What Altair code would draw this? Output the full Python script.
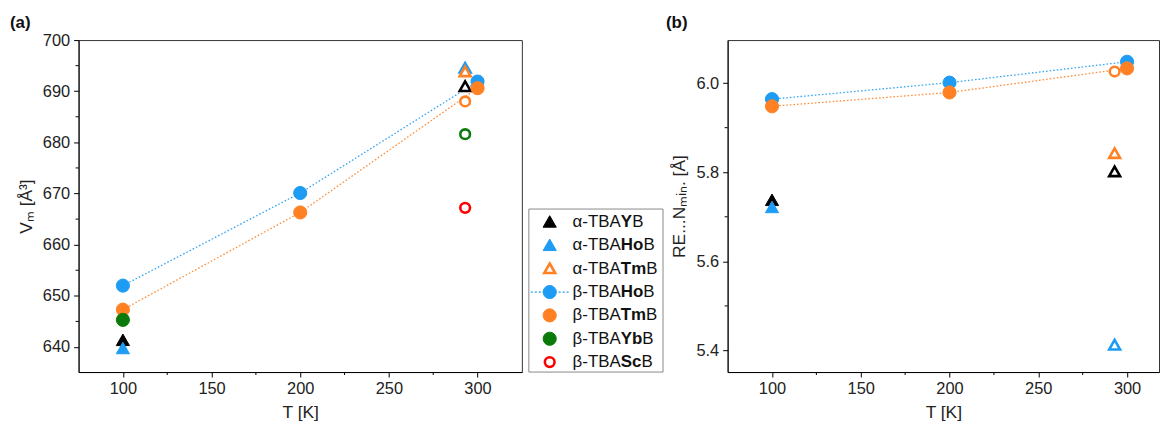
import altair as alt
import pandas as pd
import numpy as np

FONT = "Liberation Sans"

# ---- series definitions (legend order) ----
series_names = ["α-TBAYB", "α-TBAHoB", "α-TBATmB", "β-TBAHoB", "β-TBATmB", "β-TBAYbB", "β-TBAScB"]
label_prefix = ["α-TBA", "α-TBA", "α-TBA", "β-TBA", "β-TBA", "β-TBA", "β-TBA"]
label_bold = ["Y", "Ho", "Tm", "Ho", "Tm", "Yb", "Sc"]
label_suffix = ["B", "B", "B", "B", "B", "B", "B"]
series_colors = ["#000000", "#1e9cf3", "#ff8124", "#1e9cf3", "#ff8124", "#0b7a0b", "#ff0000"]
series_marker = ["triangle", "triangle", "triangle", "circle", "circle", "circle", "circle"]
legend_filled = [True, True, False, True, True, True, False]
line_series = ["β-TBAHoB", "β-TBATmB"]

# ---- panel (a): molar volume ----
a_series = ["α-TBAYB", "α-TBAYB", "α-TBAHoB", "α-TBAHoB", "α-TBATmB",
            "β-TBAHoB", "β-TBAHoB", "β-TBAHoB",
            "β-TBATmB", "β-TBATmB", "β-TBATmB", "β-TBATmB",
            "β-TBAYbB", "β-TBAYbB", "β-TBAScB"]
a_T = [100, 293, 100, 293, 293, 100, 200, 300, 100, 200, 300, 293, 100, 293, 293]
a_V = [641.3, 690.9, 639.7, 694.5, 693.8, 652.0, 670.1, 691.9, 647.3, 666.3, 690.6, 688.0, 645.3, 681.6, 667.2]
a_filled = [True, False, True, False, False, True, True, True, True, True, True, False, True, False, False]

# ---- panel (b): RE...N min distance ----
b_series = ["α-TBAYB", "α-TBAYB", "α-TBAHoB", "α-TBAHoB", "α-TBATmB",
            "β-TBAHoB", "β-TBAHoB", "β-TBAHoB",
            "β-TBATmB", "β-TBATmB", "β-TBATmB", "β-TBATmB"]
b_T = [100, 293, 100, 293, 293, 100, 200, 300, 100, 200, 300, 293]
b_R = [5.737, 5.801, 5.721, 5.412, 5.842, 5.964, 6.001, 6.048, 5.948, 5.979, 6.033, 6.026]
b_filled = [True, False, True, False, False, True, True, True, True, True, True, False]

# ---- axes ----
x_major = [100, 150, 200, 250, 300]
x_minor = [125, 175, 225, 275]
a_major = [640, 650, 660, 670, 680, 690, 700]
a_minor = [645, 655, 665, 675, 685, 695]
b_major = [5.4, 5.6, 5.8, 6.0]
b_minor = [5.5, 5.7, 5.9]

TRI = "M0,-0.95L1,0.8L-1,0.8Z"
cmap = dict(zip(series_names, series_colors))
mmap = dict(zip(series_names, series_marker))
PH = 334  # plot height


def make_points(ser, T, v, filled):
    df = pd.DataFrame({"series": ser, "T": T, "v": v, "filled": filled})
    df["color"] = df["series"].map(cmap)
    df["marker"] = df["series"].map(mmap)
    df["fill"] = np.where(df["filled"], df["color"], "white")
    df["size"] = np.where(df["filled"], 175, np.where(df["marker"] == "triangle", 120, 95))
    df["sw"] = np.where(df["filled"], 1.0, 2.6)
    df["order"] = range(len(df))
    return df


def axis_style(**kw):
    return alt.Axis(grid=False, tickSize=5, tickColor="black", domainColor="black",
                    labelFont=FONT, titleFont=FONT, labelFontSize=16.5, titleFontSize=17.5,
                    labelColor="#222", titleColor="#222", titleFontWeight="normal", **kw)


def panel(df, xdom, ydom, ymaj, ymin, ytitle, yfmt, w, tag, tag_dx):
    xs = alt.Scale(domain=xdom, nice=False, zero=False)
    ys = alt.Scale(domain=ydom, nice=False, zero=False)
    xax = axis_style(values=x_major, title="T [K]", labelPadding=4, titlePadding=6)
    yax = axis_style(values=ymaj, title=ytitle, format=yfmt, labelPadding=4, titlePadding=7)

    ldf = df[df["series"].isin(line_series) & df["filled"]]
    lines = alt.Chart(ldf).mark_line(strokeDash=[1.6, 2.0], strokeWidth=1.3, opacity=0.9).encode(
        x=alt.X("T:Q", scale=xs, axis=xax),
        y=alt.Y("v:Q", scale=ys, axis=yax),
        stroke=alt.Stroke("color:N", scale=None),
        detail="series:N",
    )
    pts = alt.Chart(df).mark_point(filled=True, opacity=1).encode(
        x=alt.X("T:Q", scale=xs, axis=xax),
        y=alt.Y("v:Q", scale=ys, axis=yax),
        shape=alt.Shape("marker:N", scale=alt.Scale(domain=["triangle", "circle"], range=[TRI, "circle"]), legend=None),
        fill=alt.Fill("fill:N", scale=None),
        stroke=alt.Stroke("color:N", scale=None),
        size=alt.Size("size:Q", scale=None),
        strokeWidth=alt.StrokeWidth("sw:Q", scale=None),
        order=alt.Order("order:Q"),
    )
    ymt = alt.Chart(pd.DataFrame({"v": ymin})).mark_rule(color="black", strokeWidth=1).encode(
        y=alt.Y("v:Q", scale=ys, axis=yax), x=alt.value(0), x2=alt.value(-3))
    xmt = alt.Chart(pd.DataFrame({"T": x_minor})).mark_rule(color="black", strokeWidth=1).encode(
        x=alt.X("T:Q", scale=xs, axis=xax), y=alt.value(PH), y2=alt.value(PH + 3))
    tagm = alt.Chart(pd.DataFrame({"t": [tag]})).mark_text(
        align="left", baseline="alphabetic", fontSize=17, fontWeight="bold", font=FONT, color="#111"
    ).encode(text="t:N", x=alt.value(tag_dx), y=alt.value(-12))
    return alt.layer(lines, pts, ymt, xmt, tagm).properties(width=w, height=PH)


a_df = make_points(a_series, a_T, a_V, a_filled)
b_df = make_points(b_series, b_T, b_R, b_filled)

left = panel(a_df, [75, 325], [635.1, 700], a_major, a_minor, "Vₘ [Å³]", "d", 446, "(a)", -69)
right = panel(b_df, [75, 318], [5.3516, 6.0966], b_major, b_minor, "RE...Nₘᵢₙ. [Å]", ".1f", 434, "(b)", -62)

# ---- custom legend (rich text labels) ----
REG = {"α": 0.58, "β": 0.575, "-": 0.333, "T": 0.611, "B": 0.667, "A": 0.667}
BLD = {"Y": 0.667, "H": 0.722, "o": 0.611, "T": 0.611, "m": 0.889, "b": 0.611, "S": 0.667, "c": 0.556}
LFS = 17
leg = pd.DataFrame({
    "row": list(range(len(series_names))),
    "pre": label_prefix, "bold": label_bold, "suf": label_suffix,
    "color": series_colors, "marker": series_marker, "filled": legend_filled,
})
leg["fill"] = np.where(leg["filled"], leg["color"], "white")
leg["size"] = np.where(leg["filled"], 175, np.where(leg["marker"] == "triangle", 120, 95))
leg["sw"] = np.where(leg["filled"], 1.0, 2.6)
x_text = 51
leg["x_sym"] = 28
leg["x_pre"] = x_text
leg["x_bold"] = x_text + leg["pre"].map(lambda s: sum(REG.get(c, 0.6) for c in s) * LFS)
leg["x_suf"] = leg["x_bold"] + leg["bold"].map(lambda s: sum(BLD.get(c, 0.65) for c in s) * LFS)

LW = 207
lxs = alt.Scale(domain=[0, LW], nice=False, zero=False)
lys = alt.Scale(domain=[-7.787, 6.426], nice=False, zero=False, reverse=True)

box = alt.Chart(pd.DataFrame({"a": [0]})).mark_rect(fill="white", stroke="#888", strokeWidth=1).encode(
    x=alt.value(7), x2=alt.value(142), y=alt.value(170), y2=alt.value(PH))
leg_line = alt.Chart(leg[leg["row"] == 3]).mark_rule(strokeDash=[2, 2], strokeWidth=1.3).encode(
    y=alt.Y("row:Q", scale=lys, axis=None), x=alt.value(9), x2=alt.value(48),
    stroke=alt.Stroke("color:N", scale=None))
leg_sym = alt.Chart(leg).mark_point(filled=True, opacity=1).encode(
    x=alt.X("x_sym:Q", scale=lxs, axis=None),
    y=alt.Y("row:Q", scale=lys, axis=None),
    shape=alt.Shape("marker:N", scale=alt.Scale(domain=["triangle", "circle"], range=[TRI, "circle"]), legend=None),
    fill=alt.Fill("fill:N", scale=None),
    stroke=alt.Stroke("color:N", scale=None),
    size=alt.Size("size:Q", scale=None),
    strokeWidth=alt.StrokeWidth("sw:Q", scale=None),
)
tcommon = dict(align="left", baseline="middle", fontSize=LFS, font=FONT, color="#111")
t_pre = alt.Chart(leg).mark_text(**tcommon).encode(
    x=alt.X("x_pre:Q", scale=lxs, axis=None), y=alt.Y("row:Q", scale=lys, axis=None), text="pre:N")
t_bold = alt.Chart(leg).mark_text(fontWeight="bold", **tcommon).encode(
    x=alt.X("x_bold:Q", scale=lxs, axis=None), y=alt.Y("row:Q", scale=lys, axis=None), text="bold:N")
t_suf = alt.Chart(leg).mark_text(**tcommon).encode(
    x=alt.X("x_suf:Q", scale=lxs, axis=None), y=alt.Y("row:Q", scale=lys, axis=None), text="suf:N")

legend_panel = alt.layer(box, leg_line, leg_sym, t_pre, t_bold, t_suf).properties(
    width=LW, height=PH,
    view=alt.ViewBackground(stroke="transparent"),
)

chart = alt.hconcat(left, legend_panel, right, spacing=0, bounds="flush").properties(
    padding={"left": 1, "top": 4, "right": 0, "bottom": 0},
).configure_view(stroke="#333", strokeWidth=1)

chart.save("out.html", embed_options={"renderer": "svg", "actions": False})
